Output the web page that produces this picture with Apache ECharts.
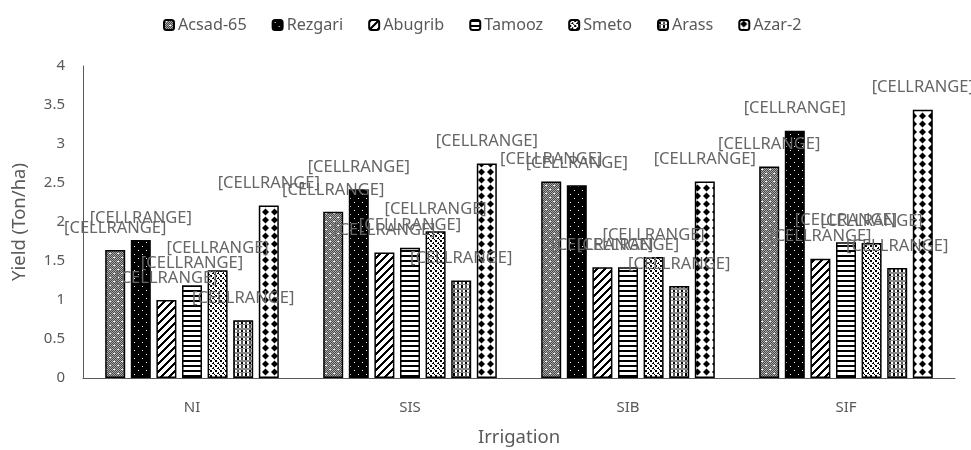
<!DOCTYPE html>
<html>
<head>
<meta charset="utf-8">
<script src="https://cdn.jsdelivr.net/npm/echarts@6/dist/echarts.min.js"></script>
<style>
  html, body { margin: 0; padding: 0; background: #fff; }
  #chart { width: 971px; height: 450px; }
</style>
</head>
<body>
<div id="chart"></div>
<script>
// Grain yield (Ton/ha) of seven cultivars under four irrigation treatments
const categories = ['NI', 'SIS', 'SIB', 'SIF'];
const seriesNames = ['Acsad-65', 'Rezgari', 'Abugrib', 'Tamooz', 'Smeto', 'Arass', 'Azar-2'];
const acsad65 = [1.64, 2.13, 2.52, 2.71];
const rezgari = [1.77, 2.42, 2.47, 3.17];
const abugrib = [1.00, 1.61, 1.42, 1.53];
const tamooz  = [1.19, 1.67, 1.42, 1.74];
const smeto   = [1.38, 1.88, 1.55, 1.73];
const arass   = [0.74, 1.25, 1.18, 1.41];
const azar2   = [2.21, 2.75, 2.52, 3.44];
const yTicks = { min: 0, max: 4, interval: 0.5 };
const dataLabelText = '[CELLRANGE]';

// --- monochrome fill patterns drawn on small tiles ---
function tile(w, h, draw) {
  const c = document.createElement('canvas');
  c.width = w; c.height = h;
  const g = c.getContext('2d');
  g.fillStyle = '#fff';
  g.fillRect(0, 0, w, h);
  draw(g, w, h);
  return { image: c, repeat: 'repeat' };
}
function px(g, x, y, col, w, h) { g.fillStyle = col; g.fillRect(x, y, w || 1, h || 1); }

const patterns = [
  // gray dither with white dots
  tile(8, 8, (g, w, h) => {
    for (let y = 0; y < h; y++) for (let x = 0; x < w; x++)
      px(g, x, y, (x + y) % 2 ? '#4a4a4a' : '#a8a8a8');
    px(g, 1, 1, '#fff', 2, 1); px(g, 5, 5, '#fff', 2, 1);
  }),
  // black with sparse white dots
  tile(8, 8, (g, w, h) => {
    px(g, 0, 0, '#000', w, h);
    px(g, 2, 2, '#fff'); px(g, 6, 6, '#fff');
  }),
  // wide forward diagonal
  tile(8, 8, (g, w, h) => {
    for (let y = 0; y < h; y++) for (let x = 0; x < w; x++)
      if ((x + y) % 8 < 3) px(g, x, y, '#000');
  }),
  // horizontal stripes
  tile(4, 5, (g, w) => { px(g, 0, 0, '#000', w, 2); }),
  // dotted grid
  tile(5, 5, (g) => {
    px(g, 0, 0, '#000', 2, 2); px(g, 3, 2, '#000', 1, 1);
    px(g, 2, 3, '#000', 2, 1); px(g, 4, 4, '#000', 1, 1);
  }),
  // plaid
  tile(8, 8, (g, w) => {
    px(g, 0, 0, '#8a8a8a', w, 2);
    px(g, 0, 4, '#8a8a8a', w, 1);
    px(g, 1, 2, '#000', 2, 2); px(g, 5, 5, '#000', 2, 3);
    px(g, 5, 2, '#555', 2, 2); px(g, 1, 5, '#555', 2, 3);
  }),
  // solid diamonds
  tile(9, 8, (g) => {
    g.fillStyle = '#000';
    g.beginPath();
    g.moveTo(4.5, 0.5); g.lineTo(8, 4); g.lineTo(4.5, 7.5); g.lineTo(1, 4);
    g.closePath(); g.fill();
  })
];

const seriesValues = [acsad65, rezgari, abugrib, tamooz, smeto, arass, azar2];
const fontFamily = '"Noto Sans", "DejaVu Sans", sans-serif';

const chart = echarts.init(document.getElementById('chart'), null, { renderer: 'canvas' });
chart.setOption({
  animation: false,
  backgroundColor: '#fff',
  legend: {
    top: 12,
    left: 158,
    itemWidth: 10,
    itemHeight: 10,
    itemGap: 25,
    textStyle: { fontFamily, fontSize: 16.2, color: '#595959', padding: [0, 0, 0, -1] },
    data: seriesNames
  },
  grid: { left: 83, right: 16, top: 66, bottom: 72, outerBoundsMode: 'none' },
  xAxis: {
    type: 'category',
    data: categories,
    name: 'Irrigation',
    nameLocation: 'middle',
    nameGap: 50,
    nameTextStyle: { fontFamily, fontSize: 18.5, color: '#595959' },
    axisLine: { lineStyle: { color: '#595959', width: 1 } },
    axisTick: { show: false },
    axisLabel: { fontFamily, fontSize: 15, color: '#595959', margin: 22 }
  },
  yAxis: {
    type: 'value',
    min: yTicks.min,
    max: yTicks.max,
    interval: yTicks.interval,
    name: 'Yield (Ton/ha)',
    nameLocation: 'middle',
    nameGap: 54,
    nameTextStyle: { fontFamily, fontSize: 18.5, color: '#595959' },
    axisLine: { show: true, lineStyle: { color: '#595959', width: 1 } },
    axisTick: { show: false },
    splitLine: { show: false },
    axisLabel: { fontFamily, fontSize: 15, color: '#595959', margin: 18 }
  },
  series: seriesNames.map((name, i) => ({
    name,
    type: 'bar',
    data: seriesValues[i],
    barWidth: 20,
    barGap: '28%',
    itemStyle: { color: patterns[i], borderColor: '#000', borderWidth: 1.5 },
    label: {
      show: true,
      position: 'top',
      distance: 12,
      formatter: () => dataLabelText,
      fontFamily,
      fontSize: 16.5,
      lineHeight: 20,
      color: '#666'
    }
  }))
});
</script>
</body>
</html>
